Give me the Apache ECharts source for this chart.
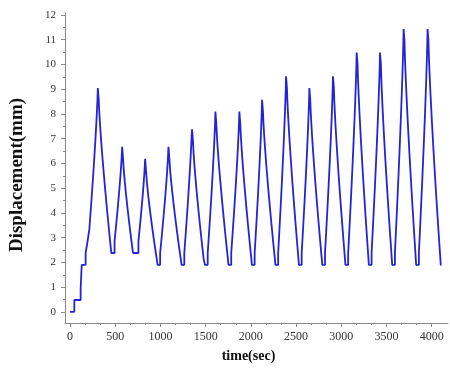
<!DOCTYPE html>
<html>
<head>
<meta charset="utf-8">
<script src="https://cdn.jsdelivr.net/npm/echarts@6/dist/echarts.min.js"></script>
<style>html,body{margin:0;padding:0;background:#fff}#c{width:450px;height:373px}</style>
</head>
<body>
<div id="c"></div>
<script>
// ---- data ----
const stepSize = 0.476;                       // staircase step height (mm)
const stepShape = 1.25;                       // steps get slightly shorter towards a peak
// initial loading ramp: time the level is reached, level
const rampTimes  = [0, 48, 118, 124, 130, 173, 195];
const rampValues = [0, 0.48, 0.95, 1.43, 1.90, 2.38, 2.86];
const rampEnd = 214;                          // end of last ramp plateau
// cycle peaks
const peakTimes  = [313, 582, 836, 1094, 1355, 1613, 1878, 2129, 2394, 2652, 2913, 3175, 3433, 3694, 3959];
const peakValues = [9.05, 6.67, 6.19, 6.67, 7.38, 8.10, 8.10, 8.57, 9.52, 9.05, 9.52, 10.48, 10.48, 11.43, 11.43];
const peakHalf = 5;
// troughs between peaks
const troughTimes  = [475, 727, 983, 1249, 1508, 1768, 2027, 2287, 2547, 2805, 3061, 3320, 3578, 3843];
const troughValues = [2.38, 2.38, 1.90, 1.90, 1.90, 1.90, 1.90, 1.90, 1.90, 1.90, 1.90, 1.90, 1.90, 1.90];
const troughHalf   = [18, 30, 14, 15, 15, 15, 15, 15, 15, 15, 15, 15, 15, 15];
const endTime = 4108, endValue = 1.90, endFallTime = 4100;
// axis tick labels
const xTicks = [0, 500, 1000, 1500, 2000, 2500, 3000, 3500, 4000];
const yTicks = [0, 1, 2, 3, 4, 5, 6, 7, 8, 9, 10, 11, 12];

// ---- build staircase polyline from the read values ----
const pts = [];
let curT = 0, curV = 0;
function hold(t) { pts.push([t, curV]); curT = t; }
function jump(v) { pts.push([curT, v]); curV = v; }
function stairs(t0, t1, target, rising) {
  const diff = target - curV;
  const n = Math.max(1, Math.round(Math.abs(diff) / stepSize));
  const v0 = curV, sg = diff >= 0 ? 1 : -1, T = t1 - t0;
  for (let k = 0; k < n; k++) {
    let t;
    if (n === 1) t = t0;
    else if (rising) t = t1 - T * Math.pow((n - 1 - k) / (n - 1), stepShape);
    else t = t0 + T * Math.pow(k / (n - 1), stepShape);
    hold(t);
    jump(k === n - 1 ? target : +(v0 + sg * (k + 1) * stepSize).toFixed(3));
  }
}
pts.push([rampTimes[0], rampValues[0]]);
curT = rampTimes[0]; curV = rampValues[0];
for (let i = 1; i < rampTimes.length; i++) { hold(rampTimes[i]); jump(rampValues[i]); }
hold(rampEnd);
for (let i = 0; i < peakTimes.length; i++) {
  stairs(curT, peakTimes[i] - peakHalf, peakValues[i], true);
  hold(peakTimes[i] + peakHalf);
  if (i < troughTimes.length) {
    stairs(curT, troughTimes[i] - troughHalf[i], troughValues[i], false);
    hold(troughTimes[i] + troughHalf[i]);
  } else {
    stairs(curT, endFallTime, endValue, false);
    hold(endTime);
  }
}

// minor ticks
const xMinor = [];
for (let i = 0; i + 1 < xTicks.length; i++) {
  const d = (xTicks[i + 1] - xTicks[i]) / 3;
  xMinor.push(xTicks[i] + d, xTicks[i] + 2 * d);
}
const yMinor = [];
for (let i = 0; i + 1 < yTicks.length; i++) yMinor.push((yTicks[i] + yTicks[i + 1]) / 2);

const font = 'Liberation Serif';
const axisCol = '#8a8a8a';
const plain = v => String(Math.round(v));
const chart = echarts.init(document.getElementById('c'), null, { renderer: 'canvas' });
chart.setOption({
  animation: false,
  backgroundColor: '#fff',
  grid: { left: 65, right: 2, top: 13, bottom: 50, containLabel: false },
  xAxis: [{
    type: 'value', min: -55, max: 4180, position: 'bottom',
    name: 'time(sec)', nameLocation: 'middle', nameGap: 26,
    nameTextStyle: { fontFamily: font, fontWeight: 'bold', fontSize: 14, color: '#111', padding: [0, 16, 0, 0] },
    splitLine: { show: false },
    axisLine: { show: true, onZero: false, lineStyle: { color: axisCol, width: 1 } },
    axisTick: { show: true, length: 4, customValues: xTicks, lineStyle: { color: axisCol } },
    axisLabel: { customValues: xTicks, formatter: plain, margin: 8, fontFamily: font, fontSize: 12, color: '#333' }
  }, {
    type: 'value', min: -55, max: 4180, position: 'bottom', gridIndex: 0,
    splitLine: { show: false },
    axisLine: { show: false, onZero: false },
    axisTick: { show: true, length: 2, customValues: xMinor, lineStyle: { color: axisCol } },
    axisLabel: { show: false }
  }],
  yAxis: [{
    type: 'value', min: -0.45, max: 12.08, position: 'left',
    name: 'Displacement(mm)', nameLocation: 'middle', nameGap: 38, nameRotate: 90,
    nameTextStyle: { fontFamily: font, fontWeight: 'bold', fontSize: 19, color: '#111', padding: [0, 14, 0, 0] },
    splitLine: { show: false },
    axisLine: { show: true, onZero: false, lineStyle: { color: axisCol, width: 1 } },
    axisTick: { show: true, length: 4, customValues: yTicks, lineStyle: { color: axisCol } },
    axisLabel: { customValues: yTicks, formatter: plain, margin: 9, fontFamily: font, fontSize: 11, color: '#333' }
  }, {
    type: 'value', min: -0.45, max: 12.08, position: 'left', gridIndex: 0,
    splitLine: { show: false },
    axisLine: { show: false, onZero: false },
    axisTick: { show: true, length: 2, customValues: yMinor, lineStyle: { color: axisCol } },
    axisLabel: { show: false }
  }],
  series: [{
    type: 'line', xAxisIndex: 0, yAxisIndex: 0,
    data: pts, showSymbol: false, symbol: 'none',
    lineStyle: { color: '#2424d6', width: 1.8 },
    clip: false
  }]
});
</script>
</body>
</html>
